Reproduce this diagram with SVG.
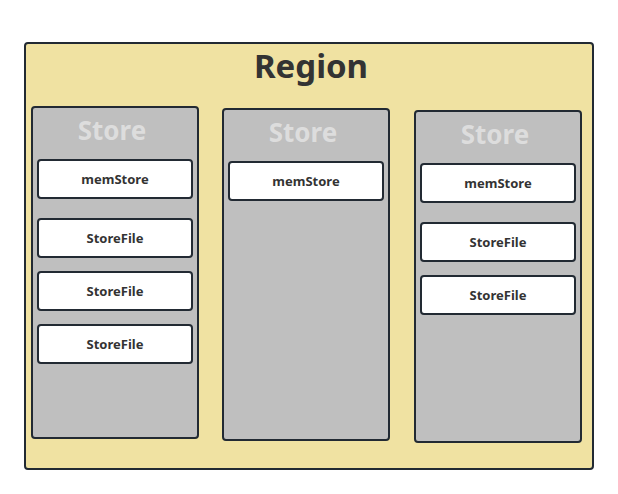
<svg xmlns="http://www.w3.org/2000/svg" width="618" height="494" viewBox="0 0 618 494">
<style>
.region{fill:#f0e2a2;stroke:#222a33;stroke-width:2}
.store{fill:#bfbfbf;stroke:#222a33;stroke-width:2}
.item{fill:#ffffff;stroke:#222a33;stroke-width:2}
.rt{font-family:"Noto Sans","Open Sans",sans-serif;font-weight:bold;font-size:33px;fill:#333333;text-anchor:middle}
.st{font-family:"Noto Sans","Open Sans",sans-serif;font-weight:bold;font-size:26px;fill:#dddddd;text-anchor:middle}
.it{font-family:"Noto Sans","Open Sans",sans-serif;font-weight:bold;font-size:13px;fill:#333333;text-anchor:middle}
</style>
<g id="region">
<rect class="region" x="25" y="43" width="568" height="426" rx="3"/>
<text class="rt" x="311" y="78">Region</text>
</g>
<g id="store1">
<rect class="store" x="32" y="107" width="166" height="331" rx="3"/>
<text class="st" x="112" y="140">Store</text>
</g>
<g id="store1-memstore"><rect class="item" x="38" y="160" width="154" height="38" rx="3"/><text class="it" x="115" y="184">memStore</text></g>
<g id="store1-file1"><rect class="item" x="38" y="219" width="154" height="38" rx="3"/><text class="it" x="115" y="243">StoreFile</text></g>
<g id="store1-file2"><rect class="item" x="38" y="272" width="154" height="38" rx="3"/><text class="it" x="115" y="296">StoreFile</text></g>
<g id="store1-file3"><rect class="item" x="38" y="325" width="154" height="38" rx="3"/><text class="it" x="115" y="349">StoreFile</text></g>
<g id="store2">
<rect class="store" x="223" y="109" width="166" height="331" rx="3"/>
<text class="st" x="303" y="142">Store</text>
</g>
<g id="store2-memstore"><rect class="item" x="229" y="162" width="154" height="38" rx="3"/><text class="it" x="306" y="186">memStore</text></g>
<g id="store3">
<rect class="store" x="415" y="111" width="166" height="331" rx="3"/>
<text class="st" x="495" y="144">Store</text>
</g>
<g id="store3-memstore"><rect class="item" x="421" y="164" width="154" height="38" rx="3"/><text class="it" x="498" y="188">memStore</text></g>
<g id="store3-file1"><rect class="item" x="421" y="223" width="154" height="38" rx="3"/><text class="it" x="498" y="247">StoreFile</text></g>
<g id="store3-file2"><rect class="item" x="421" y="276" width="154" height="38" rx="3"/><text class="it" x="498" y="300">StoreFile</text></g>
<g id="connectors"></g>
</svg>
